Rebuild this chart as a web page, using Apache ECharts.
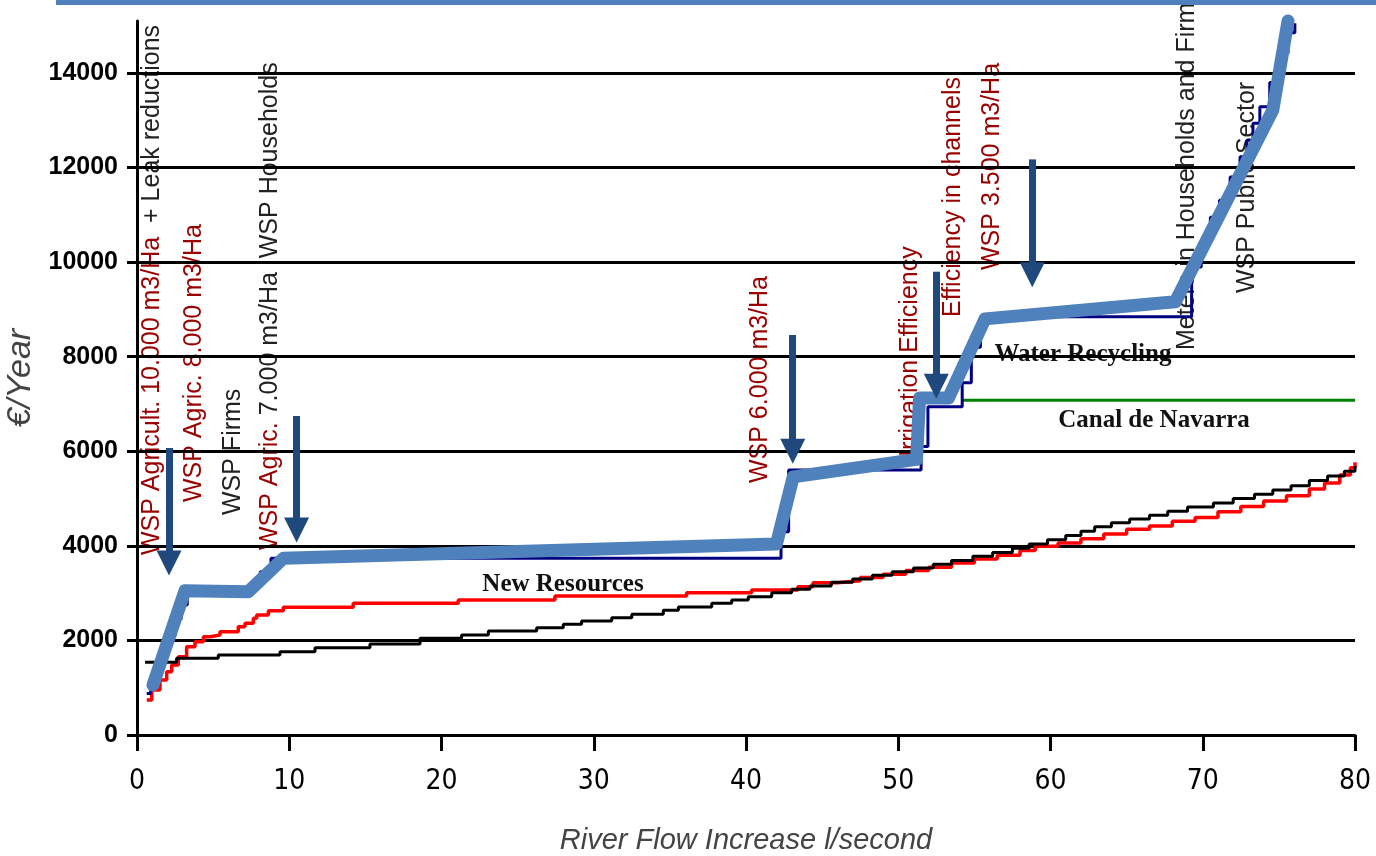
<!DOCTYPE html>
<html><head><meta charset="utf-8">
<script src="https://cdn.jsdelivr.net/npm/echarts@6/dist/echarts.min.js"></script>
<style>html,body{margin:0;padding:0;background:#fff;}#c{width:1376px;height:856px;}</style>
</head><body><div id="c"></div>
<script>
// ---- data ----
const redSteps = [[0.64,740],[0.97,950],[1.51,1163],[1.95,1339],[2.28,1480],[2.71,1656],[3.26,1868],[3.81,1973],[4.36,2079],[4.8,2115],[5.45,2184],[6.65,2290],[7.09,2361],[7.64,2467],[7.86,2537],[8.63,2628],[9.61,2700],[14.2,2784],[21.1,2855],[27.45,2939],[36.1,3010],[40.37,3066],[43.4,3137],[44.4,3221],[46.0,3260],[47.5,3330],[49.0,3400],[50.5,3480],[52.0,3550],[53.5,3640],[55.0,3720],[56.5,3800],[58.0,3900],[59.0,3990],[60.5,4060],[62.0,4150],[63.5,4250],[65.0,4350],[66.5,4420],[68.0,4520],[69.5,4600],[71.0,4720],[72.5,4830],[74.0,4950],[75.5,5060],[77.0,5200],[78.0,5330],[79.0,5500],[79.7,5650],[80,5770]];
const blackSteps = [[0.53,1537],[2.6,1622],[5.34,1692],[9.39,1762],[11.69,1847],[15.3,1925],[18.59,2044],[21.32,2114],[23.08,2199],[26.25,2269],[28.0,2340],[29.2,2411],[31.18,2481],[32.5,2552],[34.57,2636],[35.56,2707],[37.75,2784],[39.06,2855],[40.15,2925],[41.69,3010],[43.0,3081],[44.2,3151],[45.6,3230],[47.0,3300],[48.3,3380],[49.6,3450],[51.0,3530],[52.3,3610],[53.5,3690],[54.9,3780],[56.2,3860],[57.5,3948],[58.6,4040],[59.8,4130],[61.0,4220],[62.0,4310],[62.9,4405],[64.0,4490],[65.2,4570],[66.5,4650],[67.7,4730],[69.0,4820],[70.7,4906],[72.0,5000],[73.4,5090],[74.6,5180],[75.8,5270],[77.0,5380],[78.2,5480],[79.3,5580],[80,5690]];
const navyPath = [[0.64,880],[0.9,880],[0.9,1150],[1.3,1150],[1.3,1450],[1.7,1450],[1.7,1800],[2.1,1800],[2.1,2100],[2.5,2100],[2.5,2450],[2.9,2450],[2.9,2750],[3.3,2750],[3.3,3000],[7.4,3000],[7.4,3200],[8.1,3200],[8.1,3450],[8.8,3450],[8.8,3737],[42.3,3737],[42.3,4300],[42.8,4300],[42.8,5604],[51.5,5604],[51.5,6100],[51.95,6100],[51.95,6940],[54.2,6940],[54.2,7450],[54.8,7450],[54.8,8200],[55.4,8200],[55.4,8845],[69.27,8845],[69.27,9900],[69.9,9900],[69.9,10450],[70.5,10450],[70.5,10950],[71.1,10950],[71.1,11310],[71.8,11310],[71.8,11800],[72.45,11800],[72.45,12230],[72.9,12230],[72.9,12580],[73.3,12580],[73.3,12935],[73.75,12935],[73.75,13286],[74.4,13286],[74.4,13800],[75.0,13800],[75.0,14420],[75.6,14420],[75.6,14850],[76.05,14850],[76.05,15050]];
const canalLine = [[54.2,7080],[80,7080]];
const wspPath = [[1.05,1057],[3.15,3050],[7.31,3030],[9.61,3736],[42.0,4040],[43.1,5460],[51.2,5830],[51.4,7127],[53.3,7127],[55.7,8800],[68.2,9163],[74.6,13216],[75.6,15100]];
// arrows: [x, top value, end value]
const arrows = [[2.1,6069,3637],[10.48,6746,4335],[43.07,8459,6000],[52.5,9798,7374],[58.8,12173,9733]];
// vertical annotations: [x, bottom value, red part, black part]
const vLabels = [
  [0.985,3806,'WSP Agricult. 10.000 m3/Ha','  + Leak reductions'],
  [3.74,4927,'WSP Agric. 8.000 m3/Ha',''],
  [6.3,4652,'','WSP Firms'],
  [8.74,3912,'WSP Agric.',' 7.000 m3/Ha  WSP Households'],
  [40.92,5329,'WSP 6.000 m3/Ha',''],
  [50.77,5879,'Irrigation Efficiency',''],
  [53.6,8840,'Efficiency in channels',''],
  [56.16,9834,'WSP 3.500 m3/Ha',''],
  [68.97,8142,'','Meters in Households and Firms'],
  [72.9,9347,'','WSP Public Sector']
];
// horizontal labels: [x, y, text]
const hLabels = [[27.98,3172,'New Resources'],[62.13,8036,'Water Recycling'],[66.8,6640,'Canal de Navarra']];
const yTicks = [0,2000,4000,6000,8000,10000,12000,14000];
const xTicks = [0,10,20,30,40,50,60,70,80];
const xName = 'River Flow Increase l/second';
const yName = '€/Year';

const chart = echarts.init(document.getElementById('c'), null, {renderer:'canvas'});
const sans = '"Liberation Sans", Arial, sans-serif';
const narrow = '"Liberation Sans Narrow", "DejaVu Sans Condensed", "Liberation Sans", sans-serif';
chart.setOption({
  animation: false,
  backgroundColor: '#fff',
  grid: {left:137, right:21, top:21, bottom:121, containLabel:false, outerBoundsMode:'none'},
  xAxis: {
    type:'value', min:0, max:80, interval:10, z:1,
    axisLine:{show:true, onZero:false, lineStyle:{color:'#000', width:3}},
    axisTick:{show:true, length:16, lineStyle:{color:'#000', width:3}},
    axisLabel:{color:'#000', fontSize:28, fontFamily:narrow, margin:33, customValues:xTicks},
    splitLine:{show:false},
    name:xName, nameLocation:'middle', nameGap:91,
    nameTextStyle:{color:'#444', fontSize:29, fontStyle:'italic', fontFamily:sans}
  },
  yAxis: {
    type:'value', min:0, max:15100, interval:2000, z:1,
    axisLine:{show:true, onZero:false, lineStyle:{color:'#000', width:3}},
    axisTick:{show:true, length:10, lineStyle:{color:'#000', width:3}, customValues:yTicks},
    axisLabel:{color:'#000', fontSize:25, fontWeight:'bold', fontFamily:sans, margin:19, customValues:yTicks,
      formatter:v => (v % 2000 === 0 ? String(v) : '')},
    splitLine:{show:true, lineStyle:{color:'#000', width:3}},
    name:yName, nameLocation:'middle', nameGap:80,
    nameTextStyle:{color:'#444', fontSize:34, fontStyle:'italic', fontFamily:sans}
  },
  series: [
    {type:'line', name:'red', data:redSteps, step:'end', symbol:'none', z:2, lineStyle:{color:'#FF0000', width:3.5}},
    {type:'line', name:'black', data:blackSteps, step:'end', symbol:'none', z:2, lineStyle:{color:'#000000', width:3}},
    {type:'line', name:'canal', data:canalLine, symbol:'none', z:2, lineStyle:{color:'#008000', width:3}},
    {type:'line', name:'navy', data:navyPath, symbol:'none', z:3, lineStyle:{color:'#000080', width:3}},
    {type:'line', name:'wsp', data:wspPath, symbol:'none', z:4, clip:false, lineStyle:{color:'#4F81BD', width:13, cap:'round', join:'round'}},
    {type:'line', name:'arrows', data:[], z:5, symbol:'none',
      markLine:{silent:true, animation:false, symbol:['none','triangle'], symbolSize:[25,25], label:{show:false},
        lineStyle:{color:'#1F497D', width:7, type:'solid'},
        emphasis:{disabled:true},
        data: arrows.map(a => [{coord:[a[0],a[1]]},{coord:[a[0],a[2]]}])}}
  ]
});

const toPx = (x,y) => chart.convertToPixel({gridIndex:0},[x,y]);
const graphics = [];
const vSize = 25;
vLabels.forEach(l => {
  const p = toPx(l[0], l[1]);
  let txt = '';
  if (l[2]) txt += '{r|' + l[2] + '}';
  if (l[3]) txt += '{k|' + l[3] + '}';
  graphics.push({type:'text', x:p[0], y:p[1], rotation:Math.PI/2, z:0, silent:true,
    style:{text:txt, font:vSize + 'px ' + sans, align:'left', textAlign:'left', verticalAlign:'middle', textVerticalAlign:'middle',
      rich:{r:{fill:'#990000', color:'#990000', fontSize:vSize, fontFamily:sans}, k:{fill:'#222', color:'#222', fontSize:vSize, fontFamily:sans}}}});
});
hLabels.forEach(l => {
  const p = toPx(l[0], l[1]);
  graphics.push({type:'text', x:p[0], y:p[1], z:0, silent:true,
    style:{text:l[2], fill:'#111', font:'bold 25px "Liberation Serif", "Times New Roman", serif', align:'center', textAlign:'center', verticalAlign:'middle', textVerticalAlign:'middle'}});
});
graphics.push({type:'rect', shape:{x:56, y:0, width:1320, height:5}, style:{fill:'#4F81BD'}, z:10, silent:true});
chart.setOption({graphic: graphics});
</script>
</body></html>
